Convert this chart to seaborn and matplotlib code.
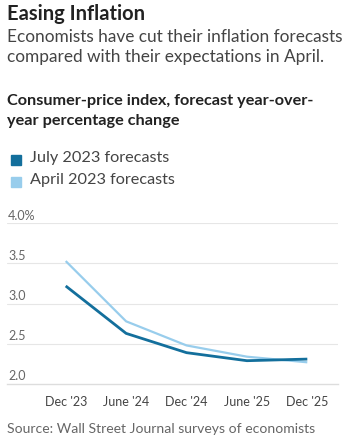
import matplotlib
matplotlib.use("Agg")
import matplotlib.pyplot as plt
import seaborn as sns
import pandas as pd

categories = ["Dec '23", "June '24", "Dec '24", "June '25", "Dec '25"]
july_2023 = [3.22, 2.63, 2.39, 2.29, 2.31]
april_2023 = [3.53, 2.78, 2.48, 2.34, 2.27]
series_names = ["July 2023 forecasts", "April 2023 forecasts"]
y_ticks = [2.0, 2.5, 3.0, 3.5, 4.0]
y_tick_labels = ["2.0", "2.5", "3.0", "3.5", "4.0%"]

sns.set_theme(style="white")
plt.rcParams['font.family'] = ['Lato', 'DejaVu Sans']

colors = {"July 2023 forecasts": "#136f9c", "April 2023 forecasts": "#98cdec"}

df = pd.DataFrame({
    "pos": list(range(len(categories))) * 2,
    "value": april_2023 + july_2023,
    "series": [series_names[1]] * len(categories) + [series_names[0]] * len(categories),
})

W, H = 347, 446
fig = plt.figure(figsize=(W / 100, H / 100), dpi=100)
ax = fig.add_axes([7 / W, 1 - 384 / H, (338 - 7) / W, (384 - 223.3) / H])

sns.lineplot(data=df, x="pos", y="value", hue="series", palette=colors,
             hue_order=[series_names[1], series_names[0]], linewidth=2.0,
             legend=False, ax=ax)
for line, lw in zip(ax.lines, [1.6, 2.0]):
    line.set_linewidth(lw)
    line.set_solid_capstyle("butt")

ax.set_xlim(-0.972, 4.508)
ax.set_ylim(2.0, 4.0)
ax.set_yticks(y_ticks)
ax.set_yticklabels([])
ax.tick_params(axis="y", length=0)
ax.set_xticks(range(len(categories)))
ax.set_xticklabels(categories, fontsize=9, color="#444444")
ax.tick_params(axis="x", length=4, width=1, color="#bbbbbb", pad=5, direction="out")
ax.set_xlabel("")
ax.set_ylabel("")
for s in ["top", "right", "left"]:
    ax.spines[s].set_visible(False)
ax.spines["bottom"].set_color("#dddddd")
ax.spines["bottom"].set_linewidth(1)
for v in y_ticks[1:]:
    ax.axhline(v, color="#e6e6e6", linewidth=0.8, zorder=0)
for v, lab in zip(y_ticks, y_tick_labels):
    ax.text(0.003, v + 0.02, lab, transform=ax.get_yaxis_transform(), va="bottom",
            ha="left", fontsize=9, color="#666666")

def ftext(x, y, s, **kw):
    fig.text(x / W, 1 - y / H, s, va="top", ha="left", **kw)

ftext(7, 4, "Easing Inflation", fontsize=14.5, fontweight="bold", color="#222222")
ftext(7, 29, "Economists have cut their inflation forecasts", fontsize=12.4, color="#444444")
ftext(7, 49, "compared with their expectations in April.", fontsize=12.4, color="#444444")
ftext(7, 94, "Consumer-price index, forecast year-over-", fontsize=11.7, fontweight="bold", color="#222222")
ftext(7, 114, "year percentage change", fontsize=11.7, fontweight="bold", color="#222222")

for i, name in enumerate(series_names):
    y0 = 155 + i * 22
    fig.patches.append(plt.Rectangle((11 / W, 1 - (y0 + 10) / H), 10 / W, 10 / H,
                                     transform=fig.transFigure, color=colors[name]))
    ftext(30, y0 - 4, name, fontsize=11.7, color="#444444")

ftext(7, 423, "Source: Wall Street Journal surveys of economists", fontsize=10.1, color="#666666")

fig.savefig("out.png", dpi=100)
